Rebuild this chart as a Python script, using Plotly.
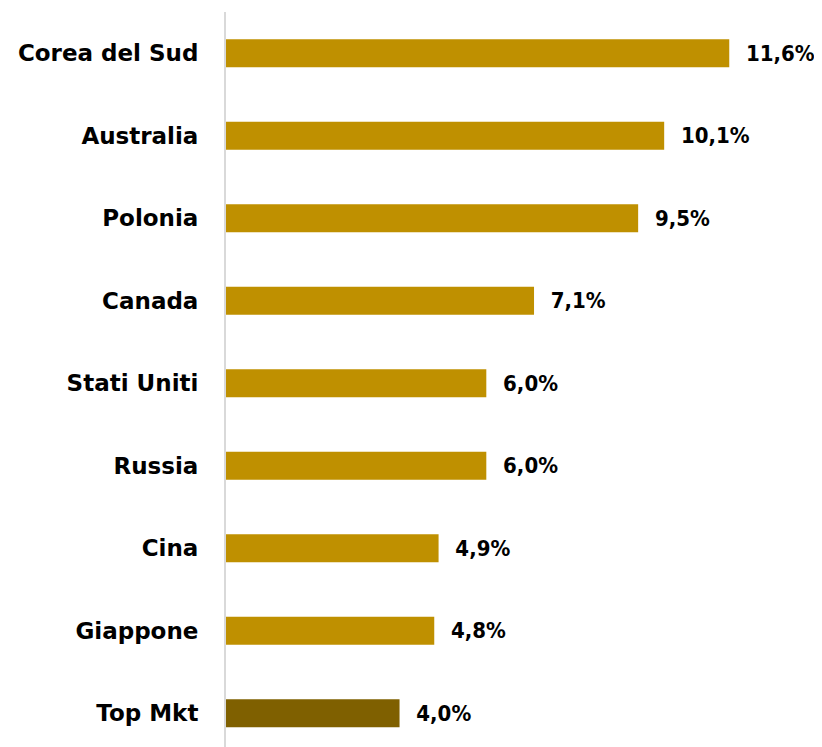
import plotly.graph_objects as go

categories = ["Corea del Sud", "Australia", "Polonia", "Canada", "Stati Uniti",
              "Russia", "Cina", "Giappone", "Top Mkt"]
values = [11.6, 10.1, 9.5, 7.1, 6.0, 6.0, 4.9, 4.8, 4.0]
value_labels = ["11,6%", "10,1%", "9,5%", "7,1%", "6,0%", "6,0%", "4,9%", "4,8%", "4,0%"]
colors = ["#BF9000"] * 8 + ["#7F6000"]

font_family = "'DejaVu Sans', sans-serif"
value_font = "'DejaVu Sans Condensed', 'DejaVu Sans', sans-serif"

fig = go.Figure(go.Bar(
    x=values,
    y=categories,
    orientation="h",
    marker=dict(color=colors, line=dict(width=0)),
    width=0.34,
    text=["\u2007" + t for t in value_labels],
    textposition="outside",
    textfont=dict(family=value_font, size=22, color="#000000", weight="bold"),
    cliponaxis=False,
    hoverinfo="skip",
))

# the page body adds an 8px offset; sizes/margins compensate for it
fig.update_layout(
    width=814, height=739,
    margin=dict(l=218, r=32, t=4, b=0),
    paper_bgcolor="white", plot_bgcolor="white",
    showlegend=False,
    font=dict(family=font_family),
    xaxis=dict(range=[0, 13], visible=False, showgrid=False, zeroline=False),
    yaxis=dict(
        type="category",
        range=[8.41, -0.5],
        showgrid=False, zeroline=False,
        showline=True, linecolor="#D9D9D9", linewidth=2,
        ticks="", ticklabelstandoff=21,
        tickfont=dict(family=font_family, size=23, color="#000000", weight="bold"),
    ),
)

fig.write_html("out.html")
